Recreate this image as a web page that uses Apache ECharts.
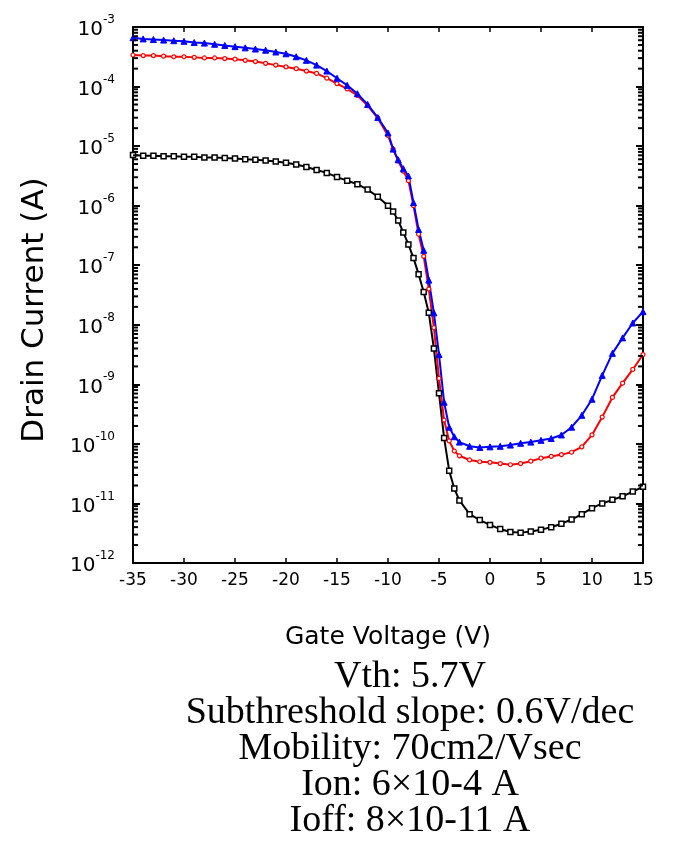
<!DOCTYPE html>
<html>
<head>
<meta charset="utf-8">
<script src="https://cdn.jsdelivr.net/npm/echarts@6/dist/echarts.min.js"></script>
<style>html,body{margin:0;padding:0;background:#fff}#c{width:684px;height:845px}</style>
</head>
<body>
<div id="c"></div>
<script>
// Gate voltage (V)
var vg = [-35,-34,-33,-32,-31,-30,-29,-28,-27,-26,-25,-24,-23,-22,-21,-20,-19,-18,-17,-16,-15,-14,-13,-12,-11,-10,
  -9.5,-9,-8.5,-8,-7.5,-7,-6.5,-6,-5.5,-5,-4.5,-4,-3.5,-3,
  -2,-1,0,1,2,3,4,5,6,7,8,9,10,11,12,13,14,15];
// log10 of drain current (A)
var blueLog = [-3.18,-3.20,-3.21,-3.22,-3.23,-3.24,-3.26,-3.27,-3.29,-3.31,-3.33,-3.35,-3.37,-3.39,-3.42,-3.45,-3.50,-3.56,-3.64,-3.74,-3.86,-3.98,-4.12,-4.30,-4.52,-4.78,
  -5.05,-5.23,-5.38,-5.50,-5.95,-6.40,-6.75,-7.25,-7.80,-8.50,-9.30,-9.72,-9.88,-9.97,
  -10.04,-10.06,-10.05,-10.04,-10.02,-9.99,-9.97,-9.94,-9.91,-9.85,-9.72,-9.52,-9.25,-8.85,-8.48,-8.22,-7.97,-7.78];
var redLog = [-3.47,-3.48,-3.48,-3.49,-3.50,-3.50,-3.51,-3.52,-3.52,-3.53,-3.54,-3.56,-3.58,-3.61,-3.64,-3.67,-3.70,-3.74,-3.78,-3.86,-3.95,-4.04,-4.15,-4.32,-4.53,-4.82,
  -5.05,-5.25,-5.42,-5.58,-6.00,-6.48,-6.85,-7.40,-8.05,-8.90,-9.60,-9.95,-10.12,-10.20,
  -10.27,-10.30,-10.31,-10.33,-10.35,-10.33,-10.29,-10.24,-10.21,-10.18,-10.14,-10.05,-9.85,-9.55,-9.22,-8.98,-8.75,-8.50];
var blackLog = [-5.15,-5.16,-5.16,-5.17,-5.17,-5.18,-5.18,-5.19,-5.19,-5.20,-5.21,-5.22,-5.23,-5.24,-5.26,-5.28,-5.31,-5.35,-5.40,-5.45,-5.52,-5.58,-5.64,-5.73,-5.85,-6.00,
  -6.10,-6.25,-6.45,-6.65,-6.88,-7.15,-7.45,-7.80,-8.40,-9.15,-9.90,-10.45,-10.75,-10.95,
  -11.18,-11.28,-11.36,-11.43,-11.48,-11.49,-11.47,-11.44,-11.40,-11.34,-11.27,-11.18,-11.08,-11.00,-10.94,-10.88,-10.80,-10.72];
var yExponents = [-12,-11,-10,-9,-8,-7,-6,-5,-4,-3];
var minorMantissas = [2,3,4,5,6,7,8,9];
var infoLines = ['Vth: 5.7V','Subthreshold slope: 0.6V/dec','Mobility: 70cm2/Vsec','Ion: 6×10-4 A','Ioff: 8×10-11 A'];

function pairs(logs){ return vg.map(function(v,i){ return [v, Math.pow(10, logs[i])]; }); }
function minorTickValues(){
  var out = [];
  yExponents.slice(0, -1).forEach(function(e){
    minorMantissas.forEach(function(m){ out.push([0, m * Math.pow(10, e)]); });
  });
  return out;
}

var chart = echarts.init(document.getElementById('c'), null, {renderer:'canvas'});
var axisFont = 'DejaVu Sans';
var lineStyle = {color:'#000', width:2};
function yLabel(val){
  var e = Math.round(Math.log10(val));
  if (yExponents.indexOf(e) < 0) return '';
  return '{b|10}{s|' + e + '}';
}
function renderMinor(params, api){
  var v = api.value(1);
  var pl = api.coord([-35, v]);
  var pr = api.coord([15, v]);
  var st = {stroke:'#000', lineWidth:2};
  return {type:'group', children:[
    {type:'line', shape:{x1:pl[0], y1:pl[1], x2:pl[0]+5, y2:pl[1]}, style:st},
    {type:'line', shape:{x1:pr[0], y1:pr[1], x2:pr[0]-5, y2:pr[1]}, style:st}
  ]};
}
var opt = {
  animation:false,
  backgroundColor:'#fff',
  grid:{left:133, right:41, top:27, bottom:282, containLabel:false},
  xAxis:[{
    type:'value', min:-35, max:15, interval:5, position:'bottom',
    axisLine:{show:true, onZero:false, lineStyle:lineStyle},
    axisTick:{show:true, inside:true, length:5, lineStyle:{color:'#000', width:1.5}},
    splitLine:{show:false},
    axisLabel:{color:'#000', fontFamily:axisFont, fontSize:17, margin:9},
    name:'Gate Voltage (V)', nameLocation:'middle', nameGap:62,
    nameTextStyle:{color:'#000', fontFamily:axisFont, fontSize:25}
  },{
    type:'value', min:-35, max:15, interval:5, position:'top',
    axisLine:{show:true, onZero:false, lineStyle:lineStyle},
    axisTick:{show:true, inside:true, length:5, lineStyle:{color:'#000', width:1.5}},
    axisLabel:{show:false}, splitLine:{show:false}
  }],
  yAxis:[{
    type:'log', logBase:10, min:1e-12, max:1e-3, position:'left',
    axisLine:{show:true, onZero:false, lineStyle:lineStyle},
    axisTick:{show:true, inside:true, length:7, lineStyle:{color:'#000', width:2}},
    splitLine:{show:false},
    axisLabel:{color:'#000', margin:18, formatter:yLabel,
      rich:{
        b:{fontFamily:axisFont, fontSize:20, color:'#000', lineHeight:26, verticalAlign:'bottom'},
        s:{fontFamily:axisFont, fontSize:12, color:'#000', lineHeight:26, verticalAlign:'top'}
      }},
    name:'Drain Current (A)', nameLocation:'middle', nameGap:83, nameRotate:90,
    nameTextStyle:{color:'#000', fontFamily:axisFont, fontSize:31, padding:[0,30,0,0]}
  },{
    type:'log', logBase:10, min:1e-12, max:1e-3, position:'right',
    axisLine:{show:true, onZero:false, lineStyle:lineStyle},
    axisTick:{show:true, inside:true, length:7, lineStyle:{color:'#000', width:2}},
    axisLabel:{show:false}, splitLine:{show:false}
  }],
  series:[
    {type:'custom', name:'minorTicks', data:minorTickValues(), silent:true, z:5, clip:false,
      xAxisIndex:0, yAxisIndex:0, renderItem:renderMinor},
    {type:'line', name:'black', data:pairs(blackLog), xAxisIndex:0, yAxisIndex:0,
      symbol:'rect', symbolSize:5, showAllSymbol:true, z:3,
      itemStyle:{color:'#fff', borderColor:'#000', borderWidth:1.5},
      lineStyle:{color:'#000', width:2}},
    {type:'line', name:'red', data:pairs(redLog), xAxisIndex:0, yAxisIndex:0,
      symbol:'circle', symbolSize:4, showAllSymbol:true, z:3,
      itemStyle:{color:'#fff', borderColor:'#ff0000', borderWidth:1.2},
      lineStyle:{color:'#ff0000', width:2}},
    {type:'line', name:'blue', data:pairs(blueLog), xAxisIndex:0, yAxisIndex:0,
      symbol:'triangle', symbolSize:6, showAllSymbol:true, z:3,
      itemStyle:{color:'#0000ff', borderColor:'#0000ff', borderWidth:1},
      lineStyle:{color:'#0000ff', width:2}}
  ],
  graphic:[{
    type:'text', x:410, y:659,
    style:{
      text: infoLines.join('\n'),
      fontFamily:'Liberation Serif', fontSize:38, lineHeight:36,
      fill:'#000', align:'center', textAlign:'center', verticalAlign:'top'
    }
  }]
};
chart.setOption(opt);
</script>
</body>
</html>
